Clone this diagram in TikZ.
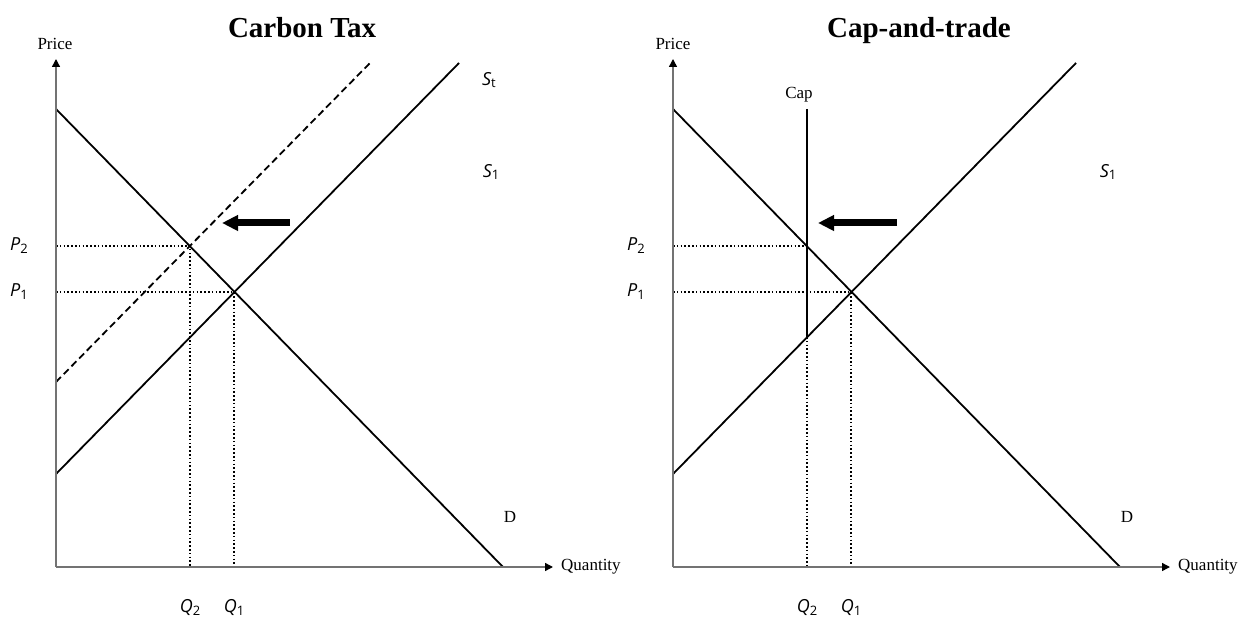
\documentclass[tikz,border=0pt]{standalone}
\usepackage{fontspec}
\setmainfont{Liberation Serif}
\newfontfamily\labfont{Open Sans}
\usetikzlibrary{arrows.meta}
\tikzset{
  axisline/.style={draw=black!55, line width=1.4pt, -{Triangle[length=8pt,width=8pt,black]}},
  curve/.style={draw=black, line width=1.8pt},
  shifted/.style={draw=black, line width=1.8pt, dash pattern=on 7pt off 4pt},
  guide/.style={draw=black, line width=1.6pt, dash pattern=on 1.6pt off 2.2pt},
  shiftarrow/.style={draw=black, line width=7pt, -{Triangle[length=16pt,width=15pt]}},
  titletext/.style={font=\fontsize{29}{32}\selectfont\bfseries, inner sep=0pt, anchor=base},
  serlab/.style={font=\fontsize{17}{19}\selectfont, inner sep=0pt},
  sanlab/.style={font=\labfont\fontsize{18}{20}\selectfont, inner sep=0pt},
}
\newcommand{\sublab}[2]{{\itshape #1}\raisebox{-0.3ex}{\fontsize{13}{14}\selectfont #2}}
\begin{document}
\begin{tikzpicture}[x=1pt,y=-1pt]
\useasboundingbox (0,0) rectangle (1240,617);
% ================= Left panel =================
\coordinate (LO) at (56,567);
\coordinate (LY) at (56,59);
\coordinate (LX) at (553,567);
\coordinate (LDa) at (56,109);
\coordinate (LDb) at (503,567);
\coordinate (LSa) at (56,474);
\coordinate (LSb) at (459,63);
\coordinate (LTa) at (56,382);
\coordinate (LTb) at (370,63);
\coordinate (LE1) at (234,292);
\coordinate (LE2) at (190,246);
\coordinate (LP1) at (56,292);
\coordinate (LP2) at (56,246);
\coordinate (LQ1) at (234,567);
\coordinate (LQ2) at (190,567);
\coordinate (LAa) at (290,223);
\coordinate (LAb) at (222,223);

\draw[guide] (LP1) -- (LE1) -- (LQ1);
\draw[guide] (LP2) -- (LE2) -- (LQ2);
\draw[curve] (LDa) -- (LDb);
\draw[curve] (LSa) -- (LSb);
\draw[shifted] (LTa) -- (LTb);
\draw[axisline] (LO) -- (LY);
\draw[axisline] (LO) -- (LX);
\draw[shiftarrow] (LAa) -- (LAb);

\node[titletext] (ltitle) at (302,38) {Carbon Tax};
\node[serlab] (lprice) at (55,44) {Price};
\node[serlab, anchor=west] (lqty) at (561,567) {Quantity};
\node[serlab] (ld) at (510,517) {D};
\node[sanlab] (lst) at (489,80) {\sublab{S}{t}};
\node[sanlab] (ls1) at (491,172) {\sublab{S}{1}};
\node[sanlab] (lp2) at (19,246) {\sublab{P}{2}};
\node[sanlab] (lp1) at (19,292) {\sublab{P}{1}};
\node[sanlab] (lq2) at (190,608) {\sublab{Q}{2}};
\node[sanlab] (lq1) at (234,608) {\sublab{Q}{1}};

% ================= Right panel =================
\coordinate (RO) at (673,567);
\coordinate (RY) at (673,59);
\coordinate (RX) at (1170,567);
\coordinate (RDa) at (673,109);
\coordinate (RDb) at (1120,567);
\coordinate (RSa) at (673,474);
\coordinate (RSb) at (1076,63);
\coordinate (RE1) at (851,292);
\coordinate (RE2) at (807,246);
\coordinate (RCa) at (807,109);
\coordinate (RCb) at (807,337);
\coordinate (RP1) at (673,292);
\coordinate (RP2) at (673,246);
\coordinate (RQ1) at (851,567);
\coordinate (RQ2) at (807,567);
\coordinate (RAa) at (897,223);
\coordinate (RAb) at (818,223);

\draw[guide] (RP1) -- (RE1) -- (RQ1);
\draw[guide] (RP2) -- (RE2);
\draw[guide] (RCb) -- (RQ2);
\draw[curve] (RDa) -- (RDb);
\draw[curve] (RSa) -- (RSb);
\draw[curve] (RCa) -- (RCb);
\draw[axisline] (RO) -- (RY);
\draw[axisline] (RO) -- (RX);
\draw[shiftarrow] (RAa) -- (RAb);

\node[titletext] (rtitle) at (919,38) {Cap-and-trade};
\node[serlab] (rprice) at (673,44) {Price};
\node[serlab, anchor=west] (rqty) at (1178,567) {Quantity};
\node[serlab] (rd) at (1127,517) {D};
\node[serlab] (rcap) at (799,95) {Cap};
\node[sanlab] (rs1) at (1108,172) {\sublab{S}{1}};
\node[sanlab] (rp2) at (636,246) {\sublab{P}{2}};
\node[sanlab] (rp1) at (636,292) {\sublab{P}{1}};
\node[sanlab] (rq2) at (807,608) {\sublab{Q}{2}};
\node[sanlab] (rq1) at (851,608) {\sublab{Q}{1}};
\end{tikzpicture}
\end{document}
